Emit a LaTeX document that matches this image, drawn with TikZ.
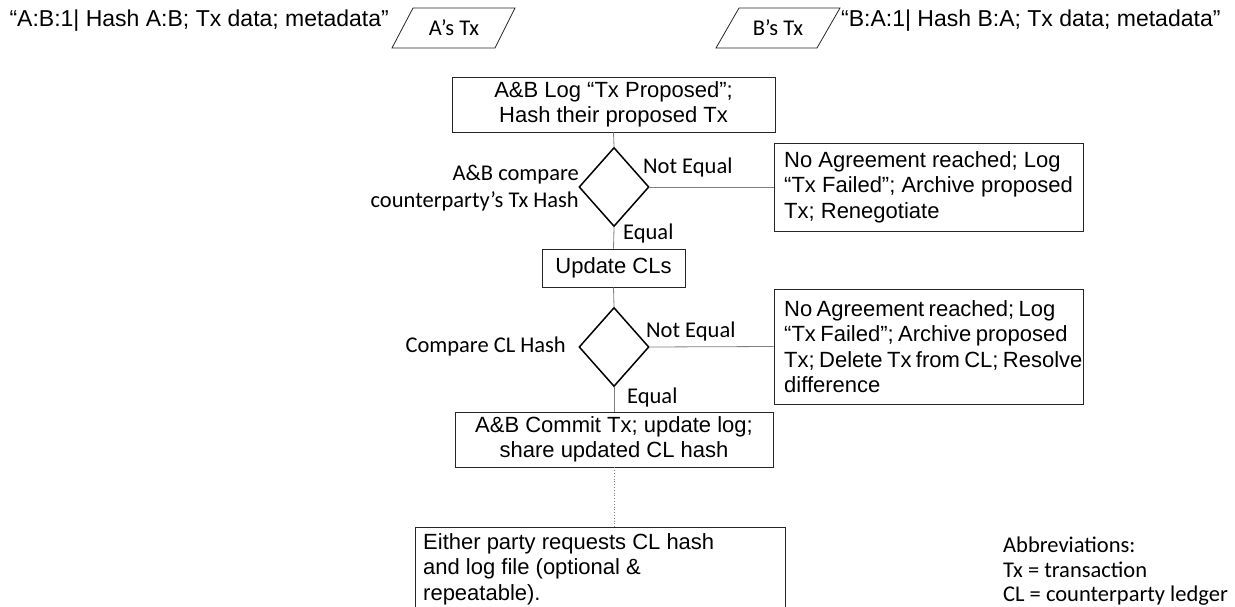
\documentclass[tikz,border=0pt]{standalone}
\usepackage{fontspec}
\setmainfont{Liberation Sans}
\newfontfamily\calib{Carlito}
\usetikzlibrary{shapes.geometric}
\newcommand{\tightsp}{\spaceskip=0.2em plus 0.1em minus 0.05em\relax}
\begin{document}
\begin{tikzpicture}[x=1pt,y=-1pt,
  font=\fontsize{22}{25.5}\selectfont,
  box/.style={draw=black!85, line width=0.8pt, inner sep=0pt, align=center},
  frame/.style={draw=black!85, line width=0.8pt},
  dec/.style={diamond, draw=black, line width=1.5pt, inner sep=0pt, minimum width=70pt, minimum height=79pt},
  link/.style={draw=black!50, line width=0.8pt},
  lbl/.style={font=\calib\fontsize{22.5}{27}\selectfont, inner sep=0pt},
  quote/.style={inner sep=0pt, font=\fontsize{23}{26}\selectfont},
]
\useasboundingbox (0,0) rectangle (1235,607);

% top inputs
\node[quote, anchor=east] (qa) at (389,21) {“A:B:1| Hash A:B; Tx data; metadata”};
\node[lbl] (ta) at (454,28) {A’s Tx};
\draw[frame] (392,48) -- (413,8) -- (515,8) -- (495,48) -- cycle;
\node[lbl] (tb) at (778,28) {B’s Tx};
\draw[frame] (716,48) -- (739,8) -- (840,8) -- (817,48) -- cycle;
\node[quote, anchor=west] (qb) at (841,21) {“B:A:1| Hash B:A; Tx data; metadata”};

% flow
\node[box, minimum width=323pt, minimum height=55pt] (tp) at (613.5,104.5) {A\&B Log “Tx Proposed”;\\Hash their proposed Tx};
\node[dec] (d1) at (614,187) {};
\node[box, minimum width=309pt, minimum height=88pt, align=left] (r1) at (928.5,187) {No Agreement reached; Log\\“Tx Failed”; Archive proposed\\Tx; Renegotiate};
\node[box, minimum width=143pt, minimum height=38pt] (u) at (613.5,268) {Update CLs};
\node[dec] (d2) at (614,347) {};
\node[box, minimum width=309pt, minimum height=115pt] (r2) at (928.5,346.5) {};
\node[inner sep=0pt, align=left, anchor=west] (r2t) at (784,346.5) {\tightsp No Agreement reached; Log\\\tightsp “Tx Failed”; Archive proposed\\\tightsp Tx; Delete Tx from CL; Resolve\\difference};
\node[box, minimum width=318pt, minimum height=55pt] (c) at (614,439.5) {A\&B Commit Tx; update log;\\share updated CL hash};

% bottom open box
\node[minimum width=370pt, minimum height=80pt, inner sep=0pt, anchor=north west] (ebox) at (415,527) {};
\draw[frame] (ebox.south west) -- (ebox.north west) -- (ebox.north east) -- (ebox.south east);
\node[inner sep=0pt, align=left, anchor=north west] (e) at (423,533) {Either party requests CL hash\\and log file (optional \&\\repeatable).};

% labels
\node[lbl, anchor=west] at (643,168) {Not Equal};
\node[lbl, anchor=west] at (623,234) {Equal};
\node[lbl, anchor=east, align=right] at (579,188) {A\&B compare\\counterparty’s Tx Hash};
\node[lbl, anchor=west] at (646,332) {Not Equal};
\node[lbl, anchor=east] at (566,347) {Compare CL Hash};
\node[lbl, anchor=west] at (627,397) {Equal};

\node[lbl, anchor=north west, align=left, font=\calib\fontsize{22.5}{24.5}\selectfont] (abbr) at (1003,537) {Abbreviations:\\Tx = transaction\\CL = counterparty ledger};

% connectors
\draw[link] (tp.south) -- (d1.north);
\draw[link] (d1.east) -- (r1.west);
\draw[link] (d1.south) -- (u.north);
\draw[link] (u.south) -- (d2.north);
\draw[link] (d2.east) -- (r2.west);
\draw[link] (d2.south) -- (c.north);
\draw[link, dotted] (c.south) -- (c.south |- ebox.north);
\end{tikzpicture}
\end{document}
